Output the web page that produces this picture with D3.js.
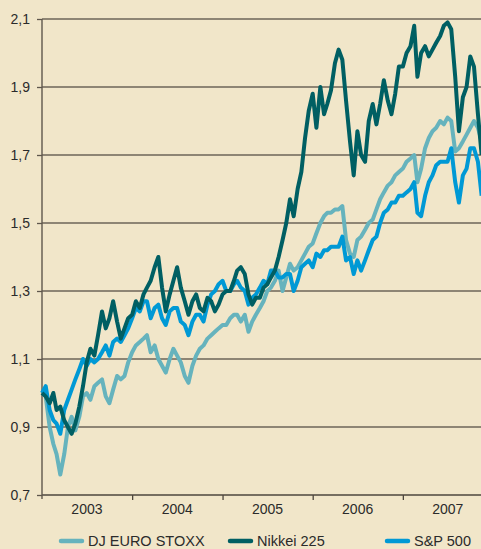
<!DOCTYPE html>
<html>
<head>
<meta charset="utf-8">
<script src="https://cdn.jsdelivr.net/npm/d3@7"></script>
<style>
  html, body { margin: 0; padding: 0; background: #f1e6c9; }
  svg { display: block; }
  text { font-family: "Liberation Sans", Arial, sans-serif; fill: #2b2b2b; }
</style>
</head>
<body>
<script>
(function(){
'use strict';

// series are relative to early January 2003 (= 1,0), sampled on the 1st and 16th of each month
var euroStoxx = [1.00,0.99,0.90,0.85,0.82,0.76,0.82,0.90,0.93,0.89,0.93,0.99,1.00,0.98,1.02,1.03,
  1.04,0.99,0.97,1.01,1.05,1.04,1.05,1.09,1.12,1.14,1.15,1.16,1.17,1.12,1.14,1.10,
  1.08,1.06,1.10,1.13,1.11,1.09,1.05,1.03,1.08,1.11,1.13,1.14,1.16,1.17,1.18,1.19,
  1.20,1.20,1.22,1.23,1.23,1.21,1.23,1.18,1.21,1.23,1.25,1.27,1.30,1.31,1.33,1.36,
  1.30,1.34,1.38,1.36,1.37,1.39,1.41,1.43,1.44,1.47,1.50,1.52,1.53,1.53,1.54,1.54,
  1.55,1.45,1.41,1.40,1.45,1.46,1.48,1.50,1.51,1.54,1.57,1.59,1.61,1.62,1.64,1.65,
  1.66,1.68,1.69,1.70,1.62,1.66,1.72,1.75,1.77,1.78,1.80,1.79,1.81,1.80,1.71,1.72,
  1.74,1.76,1.78,1.80,1.78,1.74];

var nikkei = [1.00,0.99,0.97,1.00,0.95,0.96,0.92,0.90,0.88,0.91,0.96,1.02,1.09,1.13,1.11,1.17,
  1.24,1.19,1.22,1.27,1.21,1.16,1.19,1.22,1.23,1.27,1.25,1.29,1.31,1.33,1.37,1.40,
  1.31,1.24,1.29,1.33,1.37,1.31,1.27,1.23,1.27,1.29,1.25,1.24,1.28,1.27,1.24,1.26,
  1.29,1.30,1.30,1.33,1.36,1.37,1.35,1.29,1.26,1.28,1.28,1.31,1.32,1.34,1.36,1.40,
  1.45,1.50,1.57,1.52,1.60,1.65,1.75,1.83,1.88,1.78,1.90,1.82,1.85,1.89,1.97,2.01,
  1.98,1.86,1.74,1.64,1.77,1.70,1.68,1.80,1.85,1.79,1.85,1.92,1.86,1.82,1.88,1.96,
  1.96,2.00,2.02,2.08,1.93,2.00,2.02,1.99,2.01,2.03,2.05,2.08,2.09,2.07,1.93,1.77,
  1.87,1.90,1.99,1.96,1.82,1.70];

var sp500 = [1.00,1.02,0.95,0.92,0.91,0.88,0.95,0.98,1.01,1.04,1.07,1.10,1.08,1.10,1.09,1.10,
  1.12,1.14,1.11,1.15,1.16,1.15,1.17,1.19,1.22,1.25,1.24,1.27,1.27,1.22,1.25,1.26,
  1.22,1.20,1.24,1.25,1.25,1.21,1.20,1.17,1.21,1.23,1.23,1.21,1.26,1.29,1.30,1.32,
  1.33,1.30,1.30,1.32,1.33,1.31,1.30,1.26,1.28,1.29,1.31,1.33,1.32,1.36,1.36,1.34,
  1.34,1.35,1.35,1.30,1.33,1.37,1.38,1.39,1.37,1.41,1.40,1.42,1.42,1.43,1.43,1.43,
  1.46,1.39,1.40,1.35,1.39,1.36,1.39,1.42,1.45,1.46,1.50,1.53,1.54,1.56,1.56,1.58,
  1.58,1.59,1.60,1.62,1.53,1.52,1.58,1.62,1.64,1.67,1.68,1.68,1.68,1.72,1.62,1.56,
  1.64,1.66,1.72,1.72,1.68,1.58];

var seriesNames = ['DJ EURO STOXX', 'Nikkei 225', 'S&P 500'];
var seriesColors = ['#66b3bd', '#005f63', '#0099d5'];
var yTicks = [0.7, 0.9, 1.1, 1.3, 1.5, 1.7, 1.9, 2.1];
var years = [2003, 2004, 2005, 2006, 2007];

var width = 481;
var height = 549;
var left = 42, top = 19, bottom = 495, right = 493;

var dates = euroStoxx.map(function(d, i){
  return new Date(2003, Math.floor(i / 2), i % 2 ? 16 : 1);
});

var svg = d3.select('body').append('svg')
  .attr('width', width)
  .attr('height', height);

var x = d3.scaleTime()
  .domain([new Date(2003, 0, 1), new Date(2008, 0, 1)])
  .range([left, right]);

var y = d3.scaleLinear()
  .domain([0.7, 2.1])
  .range([bottom, top]);

var fmt = function(v){ return d3.format('.1f')(v).replace('.', ','); };

// horizontal grid with the labels
var yAxis = svg.append('g')
  .attr('transform', 'translate(' + left + ',0)')
  .call(d3.axisLeft(y).tickValues(yTicks).tickFormat(fmt).tickSize(5).tickPadding(7));
yAxis.select('.domain').remove();
yAxis.selectAll('.tick line').attr('stroke', '#5f574c').attr('stroke-width', 1.3);
yAxis.selectAll('.tick text').attr('font-size', 14).attr('fill', '#2b2b2b');

svg.append('g').selectAll('line')
  .data(yTicks)
  .enter()
  .append('line')
  .attr('x1', left)
  .attr('x2', width)
  .attr('y1', function(d){ return y(d); })
  .attr('y2', function(d){ return y(d); })
  .attr('stroke', function(d){ return d === 0.7 ? '#4d463d' : '#6d6457'; })
  .attr('stroke-width', 1.3);

// bottom axis: ticks between years, labels centred in each year
var xAxis = svg.append('g')
  .attr('transform', 'translate(0,' + bottom + ')')
  .call(d3.axisBottom(x)
    .tickValues(years.slice(1).map(function(yr){ return new Date(yr, 0, 1); }))
    .tickFormat('')
    .tickSize(5));
xAxis.select('.domain').remove();
xAxis.selectAll('.tick line').attr('stroke', '#4d463d').attr('stroke-width', 1.3);

svg.append('g').selectAll('text')
  .data(years)
  .enter()
  .append('text')
  .attr('x', function(d){ return x(new Date(d, 6, 2)); })
  .attr('y', bottom + 19)
  .attr('text-anchor', 'middle')
  .attr('font-size', 14)
  .text(function(d){ return d; });

svg.append('line')
  .attr('x1', left).attr('x2', left)
  .attr('y1', top).attr('y2', bottom + 4)
  .attr('stroke', '#5f574c')
  .attr('stroke-width', 1.4);

// lines
svg.append('clipPath').attr('id', 'plot')
  .append('rect')
  .attr('x', left - 3).attr('y', 0)
  .attr('width', width - left + 3).attr('height', bottom + 4);

var line = d3.line()
  .x(function(d){ return x(d.date); })
  .y(function(d){ return y(d.value); });

var allSeries = [euroStoxx, nikkei, sp500];
var drawOrder = [0, 2, 1];

svg.append('g')
  .attr('clip-path', 'url(#plot)')
  .selectAll('path')
  .data(drawOrder)
  .enter()
  .append('path')
  .attr('d', function(k){
    return line(allSeries[k].map(function(v, i){ return {date: dates[i], value: v}; }));
  })
  .attr('fill', 'none')
  .attr('stroke', function(k){ return seriesColors[k]; })
  .attr('stroke-width', 4)
  .attr('stroke-linejoin', 'round');

// legend
var legendX = [61, 230, 387];
var legend = svg.append('g').selectAll('g')
  .data(seriesNames)
  .enter()
  .append('g')
  .attr('transform', function(d, i){ return 'translate(' + legendX[i] + ',541)'; });

legend.append('line')
  .attr('x1', 0).attr('x2', 21)
  .attr('stroke', function(d, i){ return seriesColors[i]; })
  .attr('stroke-width', 4.5)
  .attr('stroke-linecap', 'round');

legend.append('text')
  .attr('x', 27)
  .attr('y', 5)
  .attr('font-size', 14.5)
  .text(function(d){ return d; });

})();
</script>
</body>
</html>
